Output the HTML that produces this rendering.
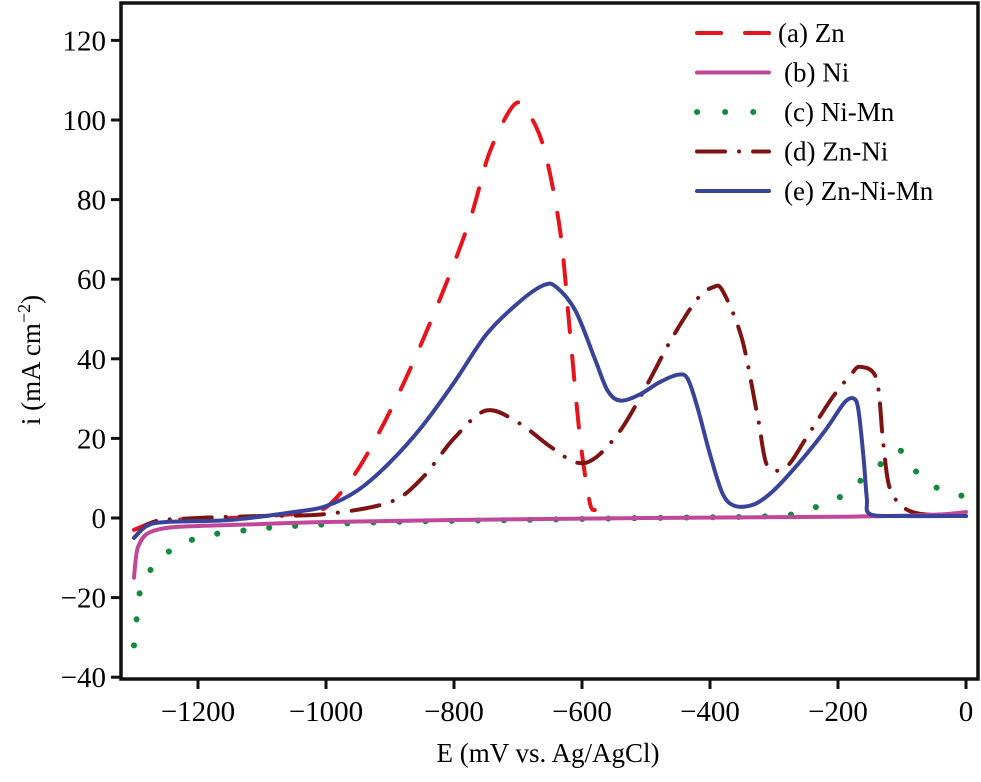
<!DOCTYPE html>
<html><head><meta charset="utf-8"><style>
body{margin:0;background:#fff}
svg, svg text{font-family:"Liberation Serif","DejaVu Serif",serif}
</style></head><body>
<svg id="chart" width="981" height="777" viewBox="0 0 981 777" font-family="Liberation Serif, DejaVu Serif, serif">
<g id="plot"></g>
<g id="axes"></g>
<g id="legend"></g>
<text x="548" y="762" font-size="27" font-family="Liberation Serif, DejaVu Serif, serif" text-anchor="middle">E (mV vs. Ag/AgCl)</text>
<text transform="translate(40,360) rotate(-90)" font-size="27" font-family="Liberation Serif, DejaVu Serif, serif" text-anchor="middle">i (mA cm<tspan dy="-10" font-size="18">−2</tspan><tspan dy="10">)</tspan></text>
</svg>
<script>
const xTicks=[-1200,-1000,-800,-600,-400,-200,0];
const yTicks=[120,100,80,60,40,20,0,-20,-40];
const seriesNames=["(a) Zn","(b) Ni","(c) Ni-Mn","(d) Zn-Ni","(e) Zn-Ni-Mn"];
const znE=[-1300,-1270,-1250,-1150,-1050,-1030,-997,-947,-884,-822,-775,-744,-705,-681,-658,-634,-619,-603,-588,-580];
const znI=[-3,-1,-0.5,0,1,2,3,13,32,55,75,92,104,101,92,72,47,20,4,2];
const niE=[-1300,-1297,-1293,-1280,-1250,-1200,-1100,-1000,-800,-500,-200,-50,0];
const niI=[-15,-10,-7,-4,-2.5,-2,-1.5,-1,-0.5,0,0.3,0.8,1.5];
const nimnE=[-1300,-1295,-1290,-1280,-1270,-1250,-1230,-1190,-1120,-1050,-900,-700,-500,-300,-250,-200,-160,-130,-110,-95,-80,-50,-20,0];
const nimnI=[-32,-24,-18,-15,-12,-9,-7,-4.5,-3,-2,-1,-0.5,0,0.5,2,5,10,14,17,16,12,8,6,5.5];
const znniE=[-1300,-1270,-1200,-1100,-1000,-900,-850,-800,-750,-700,-650,-610,-580,-540,-500,-460,-420,-395,-380,-350,-325,-310,-280,-250,-210,-180,-165,-140,-130,-120,-100,-70,0];
const znniI=[-5,-1,0,0.5,1,4,10,20,27,24,18,14,15,22,33,45,55,58,57,45,25,13,13,20,30,36,38,35,20,8,3,1,0.5];
const znnimnE=[-1300,-1280,-1250,-1150,-1050,-1000,-950,-900,-850,-800,-750,-700,-660,-640,-610,-580,-560,-540,-510,-480,-450,-435,-420,-400,-380,-360,-330,-300,-260,-220,-190,-175,-168,-160,-155,-150,-100,0];
const znnimnI=[-5,-2,-1,-0.5,1.5,3,7,14,23,34,46,54,58.5,58,52,40,32,29.5,31,34,36,35,28,16,6,3,3.5,7,14,22,29,30,27,15,5,1,0.5,0.5];

const X=v=>966+0.64*v, Y=v=>518-v*3.98;
const NS="http://www.w3.org/2000/svg";
const FF="Liberation Serif, DejaVu Serif, serif";
function mk(tag,attrs,parent){const e=document.createElementNS(NS,tag);for(const k in attrs)e.setAttribute(k,attrs[k]);parent.appendChild(e);return e;}
function smooth(pts){
 let d='M'+pts[0][0].toFixed(1)+','+pts[0][1].toFixed(1);
 for(let i=0;i<pts.length-1;i++){
  const p0=pts[Math.max(0,i-1)],p1=pts[i],p2=pts[i+1],p3=pts[Math.min(pts.length-1,i+2)];
  const t=0.16;
  const c1=[p1[0]+(p2[0]-p0[0])*t,p1[1]+(p2[1]-p0[1])*t];
  const c2=[p2[0]-(p3[0]-p1[0])*t,p2[1]-(p3[1]-p1[1])*t];
  d+='C'+c1.map(v=>v.toFixed(1))+' '+c2.map(v=>v.toFixed(1))+' '+p2.map(v=>v.toFixed(1));
 }
 return d;
}
const plot=document.getElementById('plot'),axes=document.getElementById('axes'),legend=document.getElementById('legend');
const styles=[
 {c:"#e8141c",d:"24 24",cap:"round"},
 {c:"#c0489a",d:"",cap:"round"},
 {c:"#138a3c",d:"0.1 26",cap:"round",w:6},
 {c:"#7d1412",d:"28 14 0.1 14",cap:"round"},
 {c:"#38449a",d:"",cap:"round"}];
const data=[[znE,znI],[niE,niI],[nimnE,nimnI],[znniE,znniI],[znnimnE,znnimnI]];
const order=[2,0,3,1,4];
const names=["zn-curve","ni-curve","ni-mn-curve","zn-ni-curve","zn-ni-mn-curve"];
order.forEach(i=>{
 const [e,v]=data[i];const s=styles[i];
 const pts=e.map((x,j)=>[X(x),Y(v[j])]);
 const p=mk('path',{d:smooth(pts),fill:'none',stroke:s.c,'stroke-width':s.w||4,'stroke-dasharray':s.d,'stroke-linecap':s.cap,'stroke-linejoin':'round'},plot);
 
 
});
const fr=mk('rect',{x:121,y:3,width:857,height:676,fill:'none',stroke:'#111','stroke-width':3.5},axes);


xTicks.forEach(t=>{
 const l=mk('line',{x1:X(t),x2:X(t),y1:679,y2:689,stroke:'#111','stroke-width':3},axes);
 
 
 const tx=mk('text',{x:X(t),y:721,'font-size':29,'font-family':FF,'text-anchor':'middle'},axes);
 tx.textContent=t<0?'−'+(-t):String(t);
 
 
});
yTicks.forEach(t=>{
 const l=mk('line',{x1:111,x2:121,y1:Y(t),y2:Y(t),stroke:'#111','stroke-width':3},axes);
 
 
 const tx=mk('text',{x:106,y:Y(t)+10,'font-size':29,'font-family':FF,'text-anchor':'end'},axes);
 tx.textContent=t<0?'−'+(-t):String(t);
 
 
});
seriesNames.forEach((n,i)=>{
 const y=33+i*39.5, s=styles[i];
 const g=mk('g',{},legend);
 
 
 mk('line',{x1:697,x2:769,y1:y,y2:y,stroke:s.c,'stroke-width':s.w||4,'stroke-dasharray':i==2?'0.1 28':s.d,'stroke-linecap':s.cap},g);
 const tx=mk('text',{x:i==0?778:784,y:y+9,'font-size':27,'font-family':FF},g);
 tx.textContent=n;
});
</script>
</body></html>
